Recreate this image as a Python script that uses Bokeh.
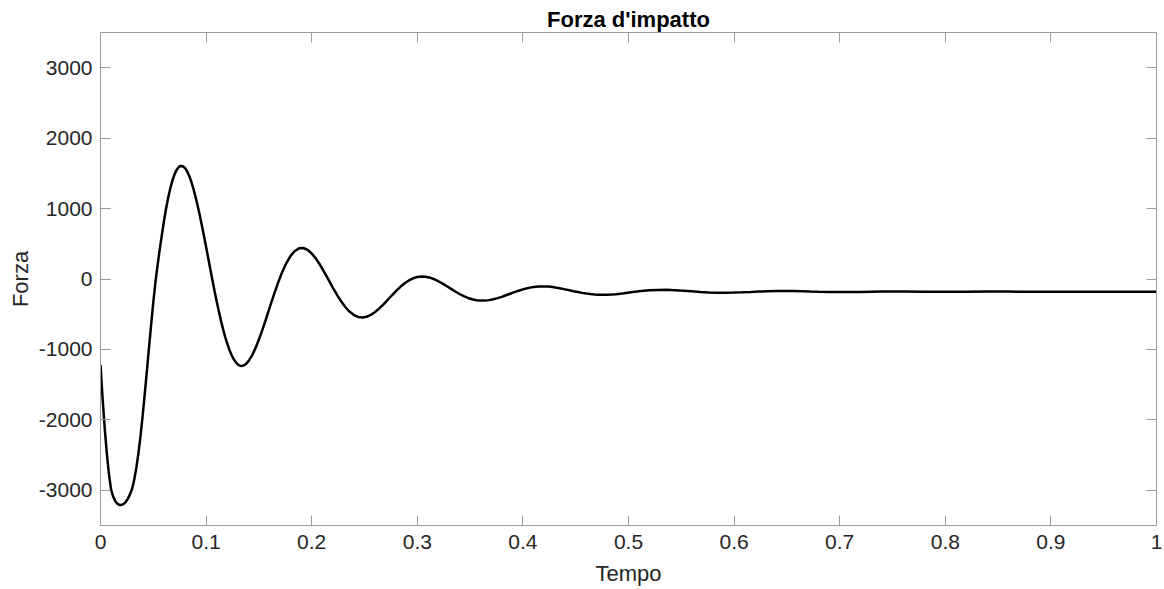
from bokeh.plotting import figure
from bokeh.models import LinearAxis, FixedTicker, Range1d
from bokeh.embed import file_html
from bokeh.resources import INLINE

tempo = [0.000, 0.002, 0.004, 0.006, 0.008, 0.010, 0.012, 0.014, 0.016, 0.018,
         0.020, 0.022, 0.024, 0.026, 0.028, 0.030, 0.032, 0.034, 0.036, 0.038,
         0.040, 0.042, 0.044, 0.046, 0.048, 0.050, 0.052, 0.054, 0.056, 0.058,
         0.060, 0.062, 0.064, 0.066, 0.068, 0.070, 0.072, 0.074, 0.076, 0.078,
         0.080, 0.082, 0.084, 0.086, 0.088, 0.090, 0.092, 0.094, 0.096, 0.098,
         0.100, 0.102, 0.104, 0.106, 0.108, 0.110, 0.112, 0.114, 0.116, 0.118,
         0.120, 0.122, 0.124, 0.126, 0.128, 0.130, 0.132, 0.134, 0.136, 0.138,
         0.140, 0.144, 0.148, 0.152, 0.156, 0.160, 0.164, 0.168, 0.172, 0.176,
         0.180, 0.184, 0.188, 0.192, 0.196, 0.200, 0.204, 0.208, 0.212, 0.216,
         0.220, 0.224, 0.228, 0.232, 0.236, 0.240, 0.244, 0.248, 0.252, 0.256,
         0.260, 0.264, 0.268, 0.272, 0.276, 0.280, 0.284, 0.288, 0.292, 0.296,
         0.300, 0.304, 0.308, 0.312, 0.316, 0.320, 0.324, 0.328, 0.332, 0.336,
         0.340, 0.344, 0.348, 0.352, 0.356, 0.360, 0.364, 0.368, 0.372, 0.376,
         0.380, 0.384, 0.388, 0.392, 0.396, 0.400, 0.404, 0.408, 0.412, 0.416,
         0.420, 0.424, 0.428, 0.432, 0.436, 0.440, 0.444, 0.448, 0.452, 0.456,
         0.460, 0.464, 0.468, 0.472, 0.476, 0.480, 0.484, 0.488, 0.496, 0.504,
         0.512, 0.520, 0.528, 0.536, 0.544, 0.552, 0.560, 0.568, 0.576, 0.584,
         0.592, 0.600, 0.608, 0.616, 0.624, 0.632, 0.640, 0.648, 0.656, 0.664,
         0.672, 0.680, 0.690, 0.700, 0.710, 0.720, 0.730, 0.740, 0.750, 0.760,
         0.780, 0.800, 0.820, 0.840, 0.860, 0.880, 0.900, 0.920, 0.940, 0.960,
         0.980, 1.000]

forza = [-1220, -1700, -2120, -2480, -2770, -2990, -3090, -3155, -3192, -3208,
         -3208, -3193, -3163, -3118, -3055, -2975, -2845, -2675, -2465, -2215,
         -1930, -1620, -1295, -965, -640, -330, -50, 190, 410, 614,
         812, 991, 1146, 1281, 1393, 1482, 1547, 1588, 1606, 1602,
         1577, 1530, 1464, 1381, 1281, 1167, 1041, 905, 760, 609,
         453, 297, 139, -17, -169, -315, -455, -587, -708, -818,
         -916, -1003, -1076, -1136, -1181, -1213, -1231, -1234, -1225, -1203,
         -1170, -1073, -939, -778, -602, -415, -232, -59, 96, 226,
         328, 398, 435, 440, 415, 363, 289, 198, 95, -13,
         -122, -226, -321, -401, -466, -512, -539, -547, -536, -510,
         -469, -418, -359, -295, -231, -168, -111, -61, -20, 10,
         29, 36, 33, 19, -3, -32, -66, -103, -141, -178,
         -213, -243, -269, -288, -301, -307, -307, -300, -288, -272,
         -253, -231, -209, -187, -166, -147, -131, -119, -110, -106,
         -105, -108, -114, -123, -134, -147, -160, -173, -185, -197,
         -207, -214, -220, -224, -224, -223, -220, -215, -202, -186,
         -172, -161, -155, -154, -159, -166, -175, -184, -191, -195,
         -195, -193, -189, -184, -178, -174, -172, -171, -172, -174,
         -178, -181, -184, -185, -185, -184, -181, -179, -177, -177,
         -180, -182, -181, -179, -179, -181, -181, -180, -180, -180,
         -180, -180]

x_ticks = [0, 0.1, 0.2, 0.3, 0.4, 0.5, 0.6, 0.7, 0.8, 0.9, 1.0]
x_tick_labels = ["0", "0.1", "0.2", "0.3", "0.4", "0.5", "0.6", "0.7", "0.8", "0.9", "1"]
y_ticks = [-3000, -2000, -1000, 0, 1000, 2000, 3000]
y_tick_labels = ["-3000", "-2000", "-1000", "0", "1000", "2000", "3000"]

titolo = "Forza d'impatto"
etichetta_x = "Tempo"
etichetta_y = "Forza"

FONT = "Liberation Sans"
AX_COL = "#9a9a9a"
TXT_COL = "#262626"

p = figure(width=1164, height=589,
           x_range=Range1d(0, 1), y_range=Range1d(-3500, 3500),
           output_backend="svg", toolbar_location=None,
           min_border_left=100, min_border_right=8,
           min_border_top=32, min_border_bottom=64,
           x_axis_label=etichetta_x, y_axis_label=etichetta_y,
           title=titolo)

p.background_fill_color = "white"
p.border_fill_color = "white"
p.outline_line_color = None
p.xgrid.visible = False
p.ygrid.visible = False

p.title.align = "center"
p.title.text_font = FONT
p.title.text_font_size = "22px"
p.title.text_font_style = "bold"
p.title.text_color = "black"
p.title.standoff = 2
p.title.offset = 0


def style_axis(ax, ticks, labels, show_labels=True):
    ax.ticker = FixedTicker(ticks=ticks)
    ax.axis_line_color = AX_COL
    ax.axis_line_width = 1
    ax.major_tick_line_color = AX_COL
    ax.major_tick_in = 10
    ax.major_tick_out = 0
    ax.minor_tick_line_color = None
    ax.major_label_text_font = FONT
    if show_labels:
        ax.major_label_overrides = {t: l for t, l in zip(ticks, labels)}
        ax.major_label_text_color = TXT_COL
        ax.major_label_text_font_size = "21px"
        ax.major_label_standoff = 9
    else:
        ax.major_label_text_color = None
        ax.major_label_text_font_size = "1px"
        ax.major_label_standoff = 0
    ax.axis_label_text_font = FONT
    ax.axis_label_text_font_size = "22px"
    ax.axis_label_text_font_style = "normal"
    ax.axis_label_text_color = TXT_COL


style_axis(p.xaxis[0], x_ticks, x_tick_labels)
style_axis(p.yaxis[0], y_ticks, y_tick_labels)
p.yaxis[0].major_label_standoff = 8
p.xaxis[0].axis_label_standoff = 9
p.yaxis[0].axis_label_standoff = 3

top_axis = LinearAxis()
style_axis(top_axis, x_ticks, x_tick_labels, show_labels=False)
p.add_layout(top_axis, "above")
right_axis = LinearAxis()
style_axis(right_axis, y_ticks, y_tick_labels, show_labels=False)
p.add_layout(right_axis, "right")

p.line(tempo, forza, line_color="black", line_width=2.5)

open("out.html", "w").write(file_html(p, INLINE))
